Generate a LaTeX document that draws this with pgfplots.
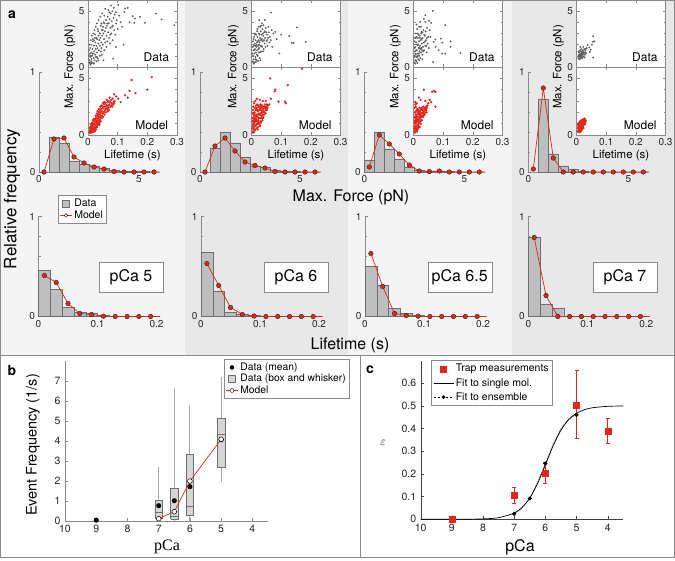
\documentclass[border=0pt]{standalone}
\usepackage{pgfplots}
\pgfplotsset{compat=1.18}
\usepackage{fontspec}
\setmainfont{TeX Gyre Heros}
\newfontfamily\serifpca{Liberation Serif}
\definecolor{bgA}{HTML}{F4F4F4}
\definecolor{bgB}{HTML}{E8E8E8}
\definecolor{mred}{HTML}{E2261B}
\definecolor{barf}{HTML}{BEBEBE}
\definecolor{bare}{HTML}{6E6E6E}
\definecolor{boxf}{HTML}{D6D6D6}
\definecolor{axgrey}{HTML}{8A8A8A}
\definecolor{wgrey}{HTML}{A8A8A8}
\newcommand{\fs}[1]{\fontsize{#1}{#1}\selectfont}
\pgfplotsset{
 base/.style={scale only axis, anchor=south west, /pgf/number format/assume math mode=true,
   tick label style={font=\fs{10}, text=black!85}, tick align=inside,
   major tick length=3pt, minor tick length=2pt},
 hist/.style={base, height=100pt, ymin=0, ymax=1, axis x line*=bottom, axis y line*=left,
   x axis line style={draw=none}, y axis line style={axgrey}, ytick={0,1}, minor ytick={0.2,0.4,0.6,0.8},
   xtick style={draw=none}, ytick style={axgrey}, clip=false},
 histF/.style={hist, width=124pt, xmin=0, xmax=6.2, xtick={0,5}},
 histL/.style={hist, width=121pt, xmin=0, xmax=0.205, xtick={0,0.1,0.2}, xticklabel style={/pgf/number format/fixed}},
 bars/.style={ybar interval, fill=barf, draw=bare, line width=0.4pt},
 model/.style={mred, line width=0.7pt, mark=*, mark size=2.3pt, mark options={fill=mred, draw=black!85, line width=0.4pt}},
 inset/.style={base, width=89pt, xmin=0, xmax=0.3, ymin=0, ymax=6, axis background/.style={fill=white},
   axis line style={axgrey}, every tick/.style={axgrey}, xtick={0,0.1,0.2,0.3}, ytick={0,5}, minor ytick={1,2,3,4},
   xticklabel style={/pgf/number format/fixed}},
 insetD/.style={inset, height=67pt, xticklabels={}},
 insetM/.style={inset, height=68pt},
 dpts/.style={only marks, mark=*, mark size=0.72pt, black!62},
 mpts/.style={only marks, mark=*, mark size=0.95pt, mred},
}
\begin{document}
\begin{tikzpicture}
\useasboundingbox (0pt,0pt) rectangle (675pt,560pt);
\fill[white] (0pt,0pt) rectangle (675pt,560pt);
\fill[bgA] (0pt,205pt) rectangle (185pt,560pt);
\fill[bgB] (185pt,205pt) rectangle (348pt,560pt);
\fill[bgA] (348pt,205pt) rectangle (512pt,560pt);
\fill[bgB] (512pt,205pt) rectangle (675pt,560pt);
\draw[axgrey, line width=0.8pt] (0.4pt,205pt) rectangle (674.6pt,559.6pt);
\draw[axgrey, line width=0.8pt] (0.4pt,3pt) rectangle (360pt,205pt);
\draw[axgrey, line width=0.8pt] (360pt,3pt) rectangle (674.6pt,205pt);

% ---------- Max force histograms ----------
\begin{axis}[histF, at={(39pt,388pt)}]
\addplot[bars] coordinates {(0,0)(0.5,0.35)(1,0.29)(1.5,0.11)(2,0.08)(2.5,0.06)(3,0.04)(3.5,0.02)(4,0.01)(4.5,0.005)(5,0.003)(5.5,0)(6,0)};
\addplot[model, mark indices={1,2,3,4,5,6,7,8,9,10,11,12}] coordinates {(0.25,0)(0.75,0.33)(1.25,0.34)(1.75,0.15)(2.25,0.09)(2.75,0.05)(3.25,0.03)(3.75,0.005)(4.25,0)(4.75,0)(5.25,0)(5.75,0)(6.05,0)};
\end{axis}
\begin{axis}[histF, at={(200pt,388pt)}]
\addplot[bars] coordinates {(0,0)(0.5,0.24)(1,0.40)(1.5,0.29)(2,0.15)(2.5,0.06)(3,0.05)(3.5,0.02)(4,0.01)(4.5,0.005)(5,0)(5.5,0)(6,0)};
\addplot[model, mark indices={1,2,3,4,5,6,7,8,9,10,11,12}] coordinates {(0.25,0)(0.75,0.26)(1.25,0.34)(1.75,0.21)(2.25,0.10)(2.75,0.065)(3.25,0.04)(3.75,0.005)(4.25,0)(4.75,0)(5.25,0)(5.75,0)(6.05,0)};
\end{axis}
\begin{axis}[histF, at={(364.3pt,388pt)}]
\addplot[bars] coordinates {(0,0.12)(0.5,0.40)(1,0.23)(1.5,0.13)(2,0.05)(2.5,0.02)(3,0.01)(3.5,0.01)(4,0.005)(4.5,0)(5,0)(5.5,0)(6,0)};
\addplot[model, mark indices={1,2,3,4,5,6,7,8,9,10,11,12}] coordinates {(0.25,0.05)(0.75,0.37)(1.25,0.28)(1.75,0.18)(2.25,0.07)(2.75,0.01)(3.25,0.005)(3.75,0.01)(4.25,0)(4.75,0)(5.25,0)(5.75,0)(6.05,0)};
\end{axis}
\begin{axis}[histF, at={(528.3pt,388pt)}]
\addplot[bars] coordinates {(0,0)(0.5,0.73)(1,0.18)(1.5,0.06)(2,0.03)(2.5,0.01)(3,0)(3.5,0)(4,0)(4.5,0)(5,0)(5.5,0)(6,0)};
\addplot[model, mark indices={1,2,3,4,5,6,7,8,9,10,11,12}] coordinates {(0.25,0.03)(0.75,0.84)(1.25,0.14)(1.75,0)(2.25,0)(2.75,0)(3.25,0)(3.75,0)(4.25,0)(4.75,0)(5.25,0)(5.75,0)(6.05,0)};
\end{axis}

% ---------- Lifetime histograms ----------
\begin{axis}[histL, at={(38.5pt,243.5pt)}, legend style={at={(0.16,1.215)}, anchor=north west, draw=axgrey, fill=white, font=\fs{10.5}, inner sep=1.5pt, row sep=-1pt, cells={anchor=west}}]
\addlegendimage{legend image code/.code={\draw[fill=barf,draw=bare] (1pt,-3.5pt) rectangle (8pt,3.5pt);}}
\addlegendentry{Data}
\addlegendimage{legend image code/.code={\draw[mred, line width=0.7pt] (-1pt,0pt) -- (11pt,0pt); \draw[black, fill=white, line width=0.4pt] (5pt,0pt) circle (1.8pt);}}
\addlegendentry{Model}
\addplot[bars, forget plot] coordinates {(0,0.46)(0.02,0.27)(0.04,0.09)(0.06,0.04)(0.08,0.03)(0.10,0.01)(0.12,0.005)(0.14,0)(0.16,0)(0.18,0)(0.20,0)};
\addplot[model, forget plot, mark indices={1,2,3,4,5,6,7,8,9,10}] coordinates {(0.01,0.41)(0.03,0.34)(0.05,0.13)(0.07,0.03)(0.09,0.02)(0.11,0.003)(0.13,0)(0.15,0)(0.17,0)(0.19,0)(0.206,0)};
\end{axis}
\begin{axis}[histL, at={(201pt,243.5pt)}]
\addplot[bars] coordinates {(0,0.64)(0.02,0.25)(0.04,0.04)(0.06,0.02)(0.08,0.01)(0.10,0.005)(0.12,0)(0.14,0)(0.16,0)(0.18,0)(0.20,0)};
\addplot[model, mark indices={1,2,3,4,5,6,7,8,9,10}] coordinates {(0.01,0.53)(0.03,0.31)(0.05,0.09)(0.07,0.02)(0.09,0.005)(0.11,0)(0.13,0)(0.15,0)(0.17,0)(0.19,0)(0.206,0)};
\end{axis}
\begin{axis}[histL, at={(365pt,243.5pt)}]
\addplot[bars] coordinates {(0,0.50)(0.02,0.31)(0.04,0.08)(0.06,0.03)(0.08,0.01)(0.10,0.005)(0.12,0)(0.14,0)(0.16,0)(0.18,0)(0.20,0)};
\addplot[model, mark indices={1,2,3,4,5,6,7,8,9,10}] coordinates {(0.01,0.63)(0.03,0.30)(0.05,0.03)(0.07,0.01)(0.09,0.003)(0.11,0)(0.13,0)(0.15,0)(0.17,0)(0.19,0)(0.206,0)};
\end{axis}
\begin{axis}[histL, at={(528.3pt,243.5pt)}]
\addplot[bars] coordinates {(0,0.79)(0.02,0.12)(0.04,0.08)(0.06,0)(0.08,0)(0.10,0)(0.12,0)(0.14,0)(0.16,0)(0.18,0)(0.20,0)};
\addplot[model, mark indices={1,2,3,4,5,6,7,8,9,10}] coordinates {(0.01,0.79)(0.03,0.21)(0.05,0)(0.07,0)(0.09,0)(0.11,0)(0.13,0)(0.15,0)(0.17,0)(0.19,0)(0.206,0)};
\end{axis}

% ---------- Insets column 1 ----------
\begin{axis}[insetD, at={(88pt,493pt)}]
\addplot[dpts] coordinates {(0.006,0.4)(0.008,0.9)(0.010,0.5)(0.011,1.3)(0.012,0.7)(0.014,1.0)(0.015,1.6)(0.016,0.4)(0.018,1.2)(0.019,0.8)(0.020,1.9)(0.021,1.4)(0.022,0.6)(0.024,1.1)(0.025,2.2)(0.026,1.6)(0.027,0.9)(0.028,1.9)(0.030,1.3)(0.031,2.5)(0.032,1.7)(0.033,0.8)(0.035,2.1)(0.036,2.8)(0.037,1.5)(0.038,2.4)(0.040,1.9)(0.041,3.0)(0.042,2.6)(0.044,1.4)(0.045,2.2)(0.046,3.3)(0.048,2.8)(0.050,2.0)(0.051,3.6)(0.052,3.0)(0.054,2.5)(0.055,3.9)(0.057,3.2)(0.058,2.2)(0.060,3.5)(0.061,4.2)(0.063,2.8)(0.064,3.7)(0.066,4.5)(0.068,3.1)(0.070,3.9)(0.071,2.6)(0.073,4.3)(0.075,3.5)(0.077,4.8)(0.079,3.0)(0.080,4.1)(0.082,5.0)(0.084,3.7)(0.086,4.4)(0.088,3.3)(0.090,4.7)(0.092,2.9)(0.095,3.9)(0.097,4.2)(0.100,3.4)(0.004,0.6)(0.007,0.3)(0.013,0.35)(0.017,2.3)(0.023,2.6)(0.029,0.5)(0.034,3.2)(0.043,3.7)(0.047,1.1)(0.053,4.0)(0.062,1.8)(0.069,5.1)(0.074,2.1)(0.081,3.6)(0.087,5.3)(0.094,4.9)
(0.003,1.0)(0.004,1.5)(0.005,2.0)(0.006,1.2)(0.008,1.7)(0.009,2.4)(0.010,1.0)(0.012,2.0)(0.013,2.8)(0.015,1.2)(0.016,2.5)(0.018,3.0)(0.020,2.4)(0.022,3.3)(0.024,2.9)(0.026,3.6)(0.028,2.6)(0.030,3.9)(0.033,3.4)(0.036,4.2)(0.039,3.0)(0.042,4.5)(0.045,3.9)(0.048,4.8)(0.050,3.3)(0.055,4.6)(0.058,5.2)(0.065,3.9)(0.072,4.9)(0.078,5.5)(0.02,0.3)(0.03,0.9)(0.04,1.0)(0.045,1.7)(0.055,1.5)(0.065,2.3)(0.075,2.9)(0.083,2.4)(0.035,0.6)(0.009,0.2)
(0.102,5.57)(0.125,5.24)(0.134,5.3)(0.122,4.94)(0.151,4.55)(0.158,4.34)(0.156,3.95)(0.175,4.49)(0.192,3.95)(0.229,4.79)(0.248,4.25)(0.291,3.74)(0.094,1.8)(0.085,0.75)(0.052,0.6)(0.11,4.0)(0.115,3.6)(0.105,4.6)(0.14,4.0)(0.12,2.0)};
\node[anchor=base east, font=\fs{12}] at (rel axis cs:0.95,0.08) {Data};
\end{axis}
\begin{axis}[insetM, at={(88pt,425pt)}]
\addplot[mpts] coordinates {(0.005,0.25)(0.007,0.4)(0.008,0.3)(0.009,0.55)(0.010,0.35)(0.011,0.7)(0.012,0.45)(0.013,0.9)(0.014,0.6)(0.015,0.3)(0.016,0.8)(0.017,1.05)(0.018,0.5)(0.019,0.7)(0.020,1.0)(0.021,1.25)(0.022,0.6)(0.023,0.9)(0.024,1.2)(0.025,1.45)(0.026,0.8)(0.027,1.1)(0.028,1.5)(0.029,0.95)(0.030,1.3)(0.031,1.7)(0.032,1.05)(0.033,1.45)(0.034,1.85)(0.035,1.2)(0.036,1.6)(0.037,2.0)(0.038,1.35)(0.040,1.8)(0.041,2.2)(0.042,1.5)(0.043,1.95)(0.045,2.3)(0.046,1.7)(0.047,2.1)(0.049,2.5)(0.050,1.9)(0.052,2.35)(0.054,2.7)(0.055,2.1)(0.057,2.5)(0.059,2.85)(0.060,2.3)(0.062,2.65)(0.064,2.45)(0.066,2.9)(0.068,2.6)(0.070,3.0)(0.072,2.7)(0.075,2.9)(0.078,3.1)(0.080,2.8)(0.083,3.2)(0.086,2.9)(0.090,3.0)(0.006,0.6)(0.010,0.9)(0.014,1.1)(0.019,1.4)(0.024,0.4)(0.028,0.7)(0.033,0.9)(0.039,1.05)
(0.006,0.2)(0.008,0.7)(0.010,0.2)(0.012,1.0)(0.013,0.3)(0.015,0.9)(0.016,0.45)(0.017,1.3)(0.018,0.25)(0.02,0.5)(0.022,1.4)(0.023,0.35)(0.025,0.65)(0.026,1.7)(0.027,0.5)(0.029,1.2)(0.03,1.9)(0.031,0.7)(0.032,2.1)(0.034,1.0)(0.035,1.65)(0.036,2.3)(0.038,0.9)(0.039,2.1)(0.04,1.3)(0.041,2.5)(0.043,1.2)(0.044,1.6)(0.046,2.6)(0.048,1.5)(0.05,2.8)(0.051,1.6)(0.053,2.0)(0.055,2.9)(0.056,1.8)(0.058,2.2)(0.061,2.0)(0.063,3.1)(0.065,2.3)(0.067,2.1)(0.069,2.4)(0.071,2.2)(0.073,3.3)(0.076,2.5)(0.079,2.6)(0.082,2.5)(0.085,2.7)(0.088,2.8)
(0.147,4.85)(0.215,5.1)(0.2,4.0)(0.14,3.9)(0.16,3.7)(0.125,3.5)(0.134,3.3)(0.102,3.2)(0.11,2.9)(0.095,3.4)(0.088,3.6)};
\node[anchor=base east, font=\fs{12}] at (rel axis cs:0.94,0.08) {Model};
\end{axis}

% ---------- Insets column 2 ----------
\begin{axis}[insetD, at={(251.5pt,493pt)}]
\addplot[dpts] coordinates {(0.004,0.5)(0.005,1.0)(0.006,1.5)(0.007,0.7)(0.008,1.9)(0.009,1.2)(0.010,0.4)(0.011,2.1)(0.012,1.6)(0.013,0.9)(0.014,2.4)(0.015,1.3)(0.016,1.8)(0.017,0.6)(0.018,2.2)(0.019,1.5)(0.020,2.7)(0.021,1.0)(0.022,1.9)(0.023,2.4)(0.024,1.3)(0.025,3.0)(0.026,1.7)(0.027,2.2)(0.028,0.8)(0.029,2.6)(0.030,1.9)(0.031,3.2)(0.032,1.4)(0.033,2.4)(0.034,2.9)(0.036,1.8)(0.037,3.4)(0.038,2.3)(0.040,2.8)(0.041,1.6)(0.043,3.1)(0.044,2.1)(0.046,2.6)(0.048,3.5)(0.050,2.3)(0.052,2.9)(0.054,1.9)(0.056,2.6)(0.058,3.1)(0.060,2.2)(0.062,2.7)(0.065,2.4)(0.007,2.5)(0.012,2.9)(0.019,3.2)(0.008,0.3)(0.015,0.45)(0.022,0.55)
(0.003,1.2)(0.004,1.8)(0.005,2.3)(0.006,0.4)(0.009,2.7)(0.01,1.5)(0.011,3.0)(0.013,1.9)(0.014,0.7)(0.016,2.9)(0.017,2.0)(0.018,1.1)(0.02,3.4)(0.021,2.3)(0.023,1.6)(0.024,3.6)(0.025,2.0)(0.027,2.9)(0.028,1.3)(0.03,2.4)(0.032,3.7)(0.033,1.9)(0.035,2.5)(0.038,3.0)(0.039,1.4)(0.042,2.4)(0.045,3.2)(0.047,1.8)(0.05,3.1)(0.053,2.4)(0.03,0.6)(0.026,4.2)
(0.066,4.88)(0.035,3.9)(0.04,3.74)(0.029,3.6)(0.057,3.6)(0.068,3.3)(0.08,3.14)(0.074,3.0)(0.153,3.53)(0.127,2.78)(0.136,2.16)(0.142,2.16)(0.183,2.25)(0.094,1.2)(0.045,4.2)(0.085,2.5)(0.07,1.8)(0.1,2.9)};
\node[anchor=base east, font=\fs{12}] at (rel axis cs:0.95,0.08) {Data};
\end{axis}
\begin{axis}[insetM, at={(251.5pt,425pt)}]
\addplot[mpts] coordinates {(0.004,0.3)(0.005,0.8)(0.006,1.3)(0.007,0.5)(0.008,1.7)(0.009,1.0)(0.010,2.0)(0.011,0.4)(0.012,1.4)(0.013,0.8)(0.014,2.2)(0.015,1.2)(0.016,1.8)(0.017,0.6)(0.018,2.4)(0.019,1.0)(0.020,1.6)(0.021,2.1)(0.022,0.7)(0.023,1.3)(0.024,2.5)(0.025,1.9)(0.026,1.0)(0.027,1.5)(0.028,2.3)(0.029,0.8)(0.030,2.7)(0.031,1.2)(0.032,1.9)(0.033,2.4)(0.034,1.5)(0.035,2.0)(0.036,2.6)(0.037,1.3)(0.038,1.8)(0.039,2.3)(0.040,1.6)(0.042,2.5)(0.043,2.0)(0.045,2.7)(0.047,2.2)(0.048,1.9)(0.050,2.5)(0.052,2.2)(0.055,2.6)(0.006,2.5)(0.004,1.9)(0.009,2.8)(0.013,3.0)(0.005,0.2)(0.008,0.25)
(0.003,0.6)(0.003,1.2)(0.004,1.5)(0.005,2.2)(0.006,0.9)(0.007,1.9)(0.007,1.2)(0.008,0.7)(0.009,1.5)(0.010,1.1)(0.011,2.4)(0.012,1.8)(0.012,0.5)(0.013,1.3)(0.014,1.6)(0.015,2.6)(0.016,0.9)(0.016,2.3)(0.017,1.4)(0.018,1.7)(0.019,2.7)(0.02,1.2)(0.02,2.2)(0.021,0.5)(0.022,1.8)(0.023,2.6)(0.024,1.1)(0.025,1.5)(0.026,2.2)(0.027,0.9)(0.028,1.8)(0.029,2.5)(0.03,1.5)(0.031,2.2)(0.032,1.1)(0.033,1.7)(0.034,2.6)(0.035,1.5)(0.036,2.2)(0.038,2.5)(0.039,1.5)(0.041,2.1)(0.042,1.8)(0.044,2.4)(0.046,2.5)(0.049,2.3)(0.051,2.7)(0.054,2.4)
(0.17,5.85)(0.063,5.0)(0.122,4.4)(0.08,4.0)(0.078,3.85)(0.018,3.2)(0.028,3.1)(0.038,3.0)(0.048,3.0)(0.091,2.95)(0.113,2.95)(0.116,2.8)(0.06,2.7)(0.065,3.2)};
\node[anchor=base east, font=\fs{12}] at (rel axis cs:0.94,0.08) {Model};
\end{axis}

% ---------- Insets column 3 ----------
\begin{axis}[insetD, at={(413.5pt,493pt)}]
\addplot[dpts] coordinates {(0.003,0.4)(0.004,0.9)(0.005,1.4)(0.006,0.6)(0.007,1.8)(0.008,1.1)(0.009,2.2)(0.010,0.5)(0.011,1.5)(0.012,0.9)(0.013,2.0)(0.014,1.2)(0.015,2.6)(0.016,0.7)(0.017,1.7)(0.018,2.3)(0.019,1.0)(0.020,1.4)(0.021,2.8)(0.022,1.9)(0.023,0.8)(0.024,2.4)(0.025,1.3)(0.026,3.0)(0.027,1.7)(0.028,2.1)(0.030,1.1)(0.031,2.6)(0.032,1.8)(0.034,3.3)(0.035,2.2)(0.036,1.5)(0.038,2.8)(0.040,1.9)(0.042,2.4)(0.044,1.3)(0.046,3.5)(0.048,2.1)(0.050,2.7)(0.052,1.7)(0.005,2.6)(0.008,3.0)(0.012,3.4)(0.006,0.3)(0.013,0.35)(0.020,0.6)(0.030,0.7)
(0.003,1.0)(0.004,1.7)(0.004,2.3)(0.006,1.2)(0.007,2.6)(0.008,0.6)(0.009,1.5)(0.010,2.7)(0.011,0.9)(0.012,2.0)(0.014,3.0)(0.015,1.0)(0.016,2.0)(0.017,2.9)(0.018,1.2)(0.019,3.6)(0.021,1.7)(0.022,2.6)(0.024,1.6)(0.025,3.6)(0.027,2.5)(0.029,1.5)(0.03,3.1)(0.033,1.4)(0.036,2.9)(0.039,2.3)(0.041,3.2)(0.043,1.9)(0.045,2.6)(0.01,3.8)
(0.065,5.03)(0.04,4.64)(0.023,4.04)(0.04,4.04)(0.052,4.13)(0.06,3.95)(0.107,3.74)(0.027,3.14)(0.057,2.7)(0.074,2.46)(0.068,2.25)(0.093,2.54)(0.097,2.19)(0.125,2.3)(0.125,1.8)(0.085,1.5)(0.097,1.2)(0.107,1.2)(0.158,1.26)(0.066,0.45)(0.055,3.3)(0.075,1.8)(0.035,4.3)};
\node[anchor=base east, font=\fs{12}] at (rel axis cs:0.95,0.08) {Data};
\end{axis}
\begin{axis}[insetM, at={(413.5pt,425pt)}]
\addplot[mpts] coordinates {(0.003,0.3)(0.004,0.8)(0.005,1.3)(0.006,0.5)(0.007,1.8)(0.008,1.0)(0.009,2.1)(0.010,0.4)(0.011,1.5)(0.012,0.8)(0.013,2.3)(0.014,1.2)(0.015,1.8)(0.016,0.6)(0.017,2.0)(0.018,1.0)(0.019,1.6)(0.020,2.4)(0.021,0.7)(0.022,1.3)(0.023,1.9)(0.024,2.2)(0.025,1.0)(0.026,1.6)(0.027,2.4)(0.028,1.3)(0.029,1.9)(0.030,2.2)(0.032,1.6)(0.033,2.5)(0.034,1.9)(0.036,2.3)(0.038,1.8)(0.040,2.2)(0.042,2.5)(0.044,2.0)(0.004,2.4)(0.007,2.7)(0.005,0.2)(0.012,0.3)(0.008,2.5)
(0.003,0.6)(0.003,1.1)(0.004,1.6)(0.005,0.5)(0.005,2.0)(0.006,1.0)(0.006,1.5)(0.007,0.7)(0.007,1.2)(0.008,1.6)(0.008,0.4)(0.009,1.3)(0.009,0.7)(0.010,1.8)(0.010,1.1)(0.011,2.2)(0.011,0.6)(0.012,1.3)(0.013,1.6)(0.013,0.5)(0.014,2.0)(0.015,0.9)(0.015,1.3)(0.016,2.2)(0.017,1.4)(0.017,0.8)(0.018,1.9)(0.019,1.1)(0.02,1.8)(0.021,2.1)(0.022,1.5)(0.023,1.2)(0.024,1.7)(0.025,2.3)(0.026,1.3)(0.027,1.9)(0.028,1.6)(0.029,2.3)(0.031,2.0)(0.033,1.7)(0.035,2.1)(0.037,2.4)(0.039,2.0)(0.041,2.3)(0.043,2.2)(0.045,2.4)(0.006,2.9)(0.011,2.8)
(0.035,4.0)(0.063,3.8)(0.069,3.9)(0.074,3.8)(0.018,3.3)(0.024,3.1)(0.04,3.0)(0.05,2.8)(0.06,2.9)(0.047,2.6)(0.074,2.5)(0.055,3.1)};
\node[anchor=base east, font=\fs{12}] at (rel axis cs:0.94,0.08) {Model};
\end{axis}

% ---------- Insets column 4 ----------
\begin{axis}[insetD, at={(576.5pt,493pt)}]
\addplot[dpts] coordinates {(0.006,0.8)(0.008,1.1)(0.009,0.7)(0.010,1.3)(0.011,0.9)(0.012,1.5)(0.013,1.0)(0.014,0.75)(0.015,1.2)(0.016,1.6)(0.017,0.9)(0.018,1.35)(0.019,1.05)(0.020,0.8)(0.021,1.5)(0.022,1.15)(0.023,1.8)(0.024,0.95)(0.025,1.3)(0.026,1.6)(0.028,1.1)(0.030,1.45)(0.032,1.25)(0.034,1.7)(0.007,1.4)(0.013,1.8)(0.027,0.85)
(0.007,1.0)(0.009,1.3)(0.011,1.1)(0.012,0.8)(0.014,1.4)(0.016,1.1)(0.018,0.9)(0.02,1.25)(0.022,1.4)(0.024,1.2)(0.029,1.3)(0.031,1.6)(0.015,0.95)
(0.056,2.75)(0.056,2.25)(0.06,2.3)(0.043,1.75)(0.048,1.55)(0.045,1.35)(0.056,0.85)(0.037,1.95)(0.052,2.0)};
\node[anchor=base east, font=\fs{12}] at (rel axis cs:0.95,0.08) {Data};
\end{axis}
\begin{axis}[insetM, at={(576.5pt,425pt)}]
\addplot[mpts] coordinates {(0.004,0.3)(0.005,0.6)(0.006,0.4)(0.007,0.9)(0.008,0.5)(0.009,1.1)(0.010,0.3)(0.011,0.8)(0.012,1.2)(0.013,0.5)(0.014,1.0)(0.015,0.7)(0.016,1.3)(0.017,0.9)(0.018,0.45)(0.019,1.1)(0.020,0.75)(0.021,1.35)(0.022,1.0)(0.023,0.6)(0.024,1.2)(0.025,0.9)(0.026,1.45)(0.027,1.1)(0.028,1.3)(0.030,1.2)(0.006,1.0)(0.009,0.25)(0.014,0.3)
(0.005,0.9)(0.006,0.7)(0.007,0.35)(0.008,1.0)(0.009,0.6)(0.010,1.0)(0.010,0.6)(0.011,0.4)(0.012,0.8)(0.013,1.1)(0.014,0.6)(0.015,1.1)(0.016,0.5)(0.017,1.2)(0.018,0.8)(0.019,0.6)(0.02,1.1)(0.021,0.9)(0.022,0.7)(0.022,1.3)(0.024,0.9)(0.025,1.2)(0.026,1.0)(0.028,1.1)(0.029,1.4)(0.03,1.0)(0.031,1.3)};
\node[anchor=base east, font=\fs{12}] at (rel axis cs:0.94,0.08) {Model};
\end{axis}

% inset labels
\foreach \L in {88,251.5,413.5,576.5}{
  \node[rotate=90, font=\fs{11.5}] at (\L pt-18pt,493pt) {Max. Force (pN)};
  \node[font=\fs{11.5}] at (\L pt+44.5pt,404pt) {Lifetime (s)};
}
% pCa boxes
\foreach \cx/\t in {131/pCa 5, 296/pCa 6, 459.7/pCa 6.5, 625/pCa 7}{
  \node[draw=axgrey, fill=white, minimum width=64pt, minimum height=30.5pt, font=\fs{16}, inner sep=0pt] at (\cx pt,283pt) {\t};
}
\node[font=\fs{16}] at (351pt,363pt) {Max. Force (pN)};
\node[font=\fs{16}] at (350pt,215pt) {Lifetime (s)};
\node[rotate=90, font=\fs{17}] at (12pt,361pt) {Relative frequency};
\node[font=\bfseries\fs{14}] at (12pt,545pt) {a};

% ---------- Panel b ----------
\begin{axis}[base, at={(65pt,39.3pt)}, width=203pt, height=160pt, xmin=3.5, xmax=10, x dir=reverse, ymin=0, ymax=8,
  axis x line*=bottom, axis y line*=left, axis line style={axgrey}, every tick/.style={axgrey},
  xtick={4,5,6,7,8,9,10}, ytick={0,1,2,3,4,5,6,7}, tick label style={font=\fs{10.5}}, clip=false,
  xticklabel style={yshift=-1pt}, yticklabel style={xshift=-1pt},
  legend style={at={(0.783,1.009)}, anchor=north west, draw=axgrey, fill=white, font=\fs{10.3}, inner sep=1.5pt, row sep=-1.5pt, cells={anchor=west}}]
\addlegendimage{legend image code/.code={\fill[black] (5pt,0pt) circle (2pt);}}
\addlegendentry{Data (mean)}
\addlegendimage{legend image code/.code={\draw[fill=boxf,draw=bare] (1.5pt,-3.5pt) rectangle (8.5pt,3.5pt);}}
\addlegendentry{Data (box and whisker)}
\addlegendimage{legend image code/.code={\draw[mred, line width=0.7pt] (-1pt,0pt) -- (11pt,0pt); \draw[black, fill=white, line width=0.4pt] (5pt,0pt) circle (2pt);}}
\addlegendentry{Model}
% whiskers
\addplot[wgrey, line width=0.9pt, forget plot] coordinates {(7,0)(7,2.7)};
\addplot[wgrey, line width=0.9pt, forget plot] coordinates {(6.5,0)(6.5,6.62)};
\addplot[wgrey, line width=0.9pt, forget plot] coordinates {(6,0)(6,5.78)};
\addplot[wgrey, line width=0.9pt, forget plot] coordinates {(5,1.92)(5,7.2)};
% boxes
\addplot[fill=boxf, draw=bare, line width=0.5pt, forget plot] coordinates {(7.12,0.12)(6.88,0.12)(6.88,1.0)(7.12,1.0)(7.12,0.12)};
\addplot[fill=boxf, draw=bare, line width=0.5pt, forget plot] coordinates {(6.62,0.07)(6.38,0.07)(6.38,1.62)(6.62,1.62)(6.62,0.07)};
\addplot[fill=boxf, draw=bare, line width=0.5pt, forget plot] coordinates {(6.12,0.28)(5.88,0.28)(5.88,3.33)(6.12,3.33)(6.12,0.28)};
\addplot[fill=boxf, draw=bare, line width=0.5pt, forget plot] coordinates {(5.12,2.65)(4.88,2.65)(4.88,5.12)(5.12,5.12)(5.12,2.65)};
% medians
\addplot[bare, line width=0.6pt, forget plot] coordinates {(7.12,0.4)(6.88,0.4)};
\addplot[bare, line width=0.6pt, forget plot] coordinates {(6.62,0.2)(6.38,0.2)};
\addplot[bare, line width=0.6pt, forget plot] coordinates {(6.12,0.7)(5.88,0.7)};
\addplot[bare, line width=0.6pt, forget plot] coordinates {(5.12,4.32)(4.88,4.32)};
% means
\addplot[only marks, mark=*, mark size=2.3pt, black, forget plot] coordinates {(9,0.03)(7,0.75)(6.5,1.0)(6,1.7)(5,4.05)};
% model
\addplot[mred, line width=0.7pt, mark=*, mark size=2.4pt, mark options={fill=white, draw=black, line width=0.5pt}, forget plot] coordinates {(7,0.1)(6.5,0.45)(6,1.98)(5,4.07)};
\end{axis}
\node[rotate=90, font=\fs{14.5}] at (33pt,115pt) {Event Frequency (1/s)};
\node[font=\serifpca\fs{16}] at (167pt,13pt) {pCa};
\node[font=\bfseries\fs{14}] at (12pt,190pt) {b};

% ---------- Panel c ----------
\begin{axis}[base, at={(420.7pt,40.7pt)}, width=202.6pt, height=158.8pt, xmin=3.5, xmax=10, x dir=reverse, ymin=0, ymax=0.7,
  axis x line*=bottom, axis y line*=left, axis line style={black!75}, every tick/.style={black!75},
  xtick={4,5,6,7,8,9,10}, ytick={0,0.1,0.2,0.3,0.4,0.5,0.6}, yticklabel style={/pgf/number format/fixed, xshift=-1pt},
  xticklabel style={yshift=-1pt},
  tick label style={font=\fs{10.5}}, clip=false,
  legend style={at={(0.051,1.003)}, anchor=north west, draw=axgrey, fill=white, font=\fs{10.5}, inner sep=2pt, row sep=1pt, cells={anchor=west}}]
\addlegendimage{legend image code/.code={\fill[mred] (7pt,-3pt) rectangle (13pt,3pt);}}
\addlegendentry{Trap measurements}
\addlegendimage{legend image code/.code={\draw[black, line width=0.6pt] (0pt,0pt) -- (20pt,0pt);}}
\addlegendentry{Fit to single mol.}
\addlegendimage{legend image code/.code={\draw[black, line width=0.6pt, dash pattern=on 2.5pt off 1.5pt] (0pt,0pt) -- (20pt,0pt); \fill[black] (10pt,0pt) circle (1.6pt);}}
\addlegendentry{Fit to ensemble}
\addplot[black!55, line width=0.8pt, dash pattern=on 1.5pt off 1pt, mark=*, mark size=1.6pt, mark options={black, solid}, mark indices={1,3,5,9}, forget plot] coordinates {(7,0.024)(6.75,0.05)(6.5,0.092)(6.25,0.162)(6,0.246)(5.75,0.332)(5.5,0.40)(5.25,0.442)(5,0.46)};
\addplot[black, line width=0.7pt, smooth, forget plot] coordinates {(10,0)(9,0.0001)(8.5,0.0005)(8,0.0018)(7.5,0.0072)(7,0.0275)(6.75,0.052)(6.5,0.094)(6.25,0.158)(6,0.240)(5.75,0.324)(5.5,0.393)(5.25,0.440)(5,0.468)(4.75,0.483)(4.5,0.4915)(4,0.498)(3.5,0.4995)};
\addplot[only marks, mark=square*, mark size=3pt, mred, forget plot,
  error bars/.cd, y dir=both, y explicit, error mark options={rotate=90, mred, mark size=2pt, line width=0.6pt}, error bar style={mred, line width=0.8pt}]
  coordinates {(9,0.0) +- (0,0.0) (7,0.105) +- (0,0.035) (6,0.205) +- (0,0.048) (5,0.505) +- (0,0.15) (4,0.39) +- (0,0.055)};
\end{axis}
\node[font=\fs{13}] at (383pt,117pt) {$\varepsilon$};
\node[font=\fs{16}] at (520pt,13pt) {pCa};
\node[font=\bfseries\fs{14}] at (370pt,190pt) {c};
\end{tikzpicture}
\end{document}
